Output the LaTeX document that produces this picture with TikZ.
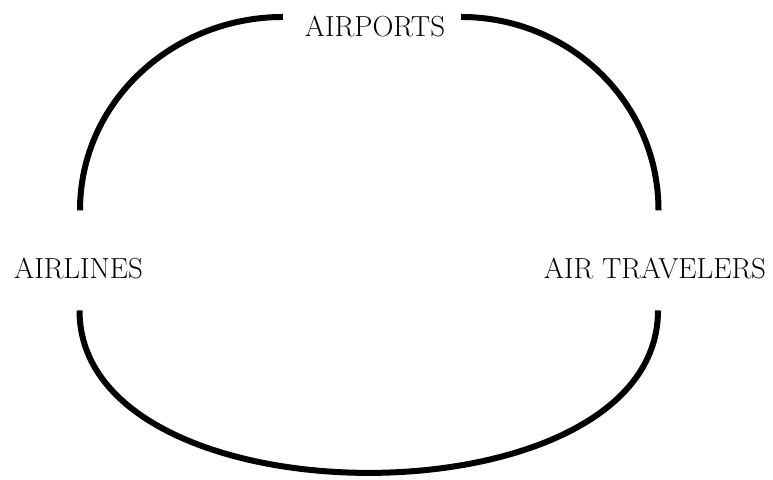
\documentclass[tikz,border=0pt]{standalone}
\usepackage{tikz}
\usetikzlibrary{positioning,calc}

\begin{document}
\begin{tikzpicture}[x=1pt,y=1pt,line width=6pt]
\tikzstyle{lbl}=[inner sep=0pt,outer sep=0pt,anchor=base,font=\fontsize{29}{34}\selectfont]
\useasboundingbox (0,0) rectangle (773,479);
\node[lbl] (airports) at (375,442) {AIRPORTS};
\node[lbl] (airlines) at (78.5,200) {AIRLINES};
\node[lbl] (travelers) at (655,200) {AIR TRAVELERS};
% upper half, broken by the top label
\draw ([xshift=1.5pt,yshift=48.2pt]airlines.north) to[out=90,in=180] ([xshift=-22pt,yshift=10pt]airports.west);
\draw ([xshift=16pt,yshift=10pt]airports.east) to[out=0,in=90] ([xshift=3.5pt,yshift=48.2pt]travelers.north);
% lower half
\draw ([xshift=1pt,yshift=-31pt]airlines.south) to[out=-90,in=-90,looseness=0.96] ([xshift=3pt,yshift=-31pt]travelers.south);
\end{tikzpicture}
\end{document}
